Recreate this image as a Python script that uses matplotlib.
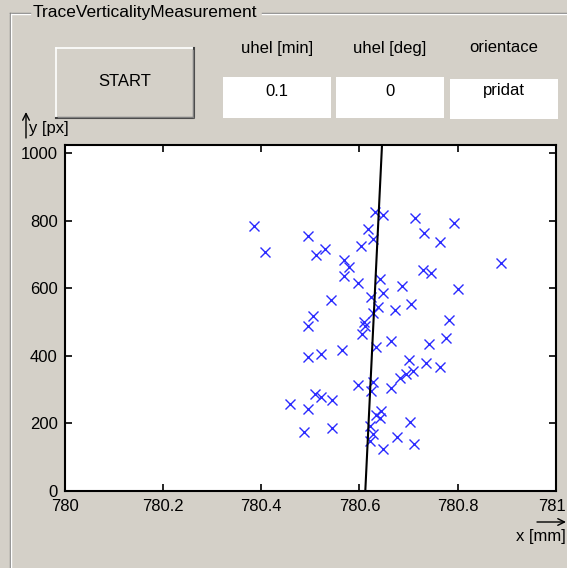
import matplotlib.pyplot as plt
from matplotlib.patches import Rectangle
from matplotlib.lines import Line2D
from matplotlib.transforms import ScaledTranslation

# namerene body stopy: x v mm, y v px
x_mm = [780.386, 780.407, 780.495, 780.512, 780.531, 780.568, 780.578, 780.568,
        780.597, 780.542, 780.505, 780.495, 780.631, 780.647, 780.617, 780.627,
        780.604, 780.641, 780.647, 780.623, 780.638, 780.627, 780.610, 780.611,
        780.606, 780.713, 780.792, 780.732, 780.765, 780.888, 780.729, 780.746,
        780.686, 780.801, 780.706, 780.673, 780.782, 780.776, 780.664, 780.742,
        780.634, 780.564, 780.522, 780.495, 780.700, 780.736, 780.765, 780.709,
        780.695, 780.683, 780.627, 780.597, 780.624, 780.664, 780.509, 780.522,
        780.459, 780.545, 780.495, 780.643, 780.634, 780.641, 780.703, 780.621,
        780.488, 780.545, 780.627, 780.621, 780.676, 780.712, 780.647]
y_px = [784, 707, 754, 697, 717, 684, 664, 636,
        615, 564, 517, 488, 827, 817, 774, 746,
        726, 627, 587, 573, 544, 528, 501, 488,
        465, 807, 794, 764, 736, 674, 655, 644,
        607, 597, 554, 535, 507, 453, 444, 435,
        425, 416, 406, 396, 387, 378, 367, 354,
        345, 334, 324, 314, 295, 305, 287, 277,
        257, 268, 243, 236, 224, 216, 204, 193,
        176, 186, 168, 148, 159, 138, 124]

# prolozena primka (spodni a horni bod)
fit_x = [780.612, 780.646]
fit_y = [0, 1024]

x_ticks = [780, 780.2, 780.4, 780.6, 780.8, 781]
x_ticklabels = ['780', '780.2', '780.4', '780.6', '780.8', '781']
y_ticks = [0, 200, 400, 600, 800, 1000]

# hodnoty v polickach
labels = ['uhel [min]', 'uhel [deg]', 'orientace']
values = ['0.1', '0', 'pridat']

W, H = 567, 568
bg = '#d4d0c8'
plt.rcParams['font.family'] = ['Liberation Sans', 'DejaVu Sans']
plt.rcParams['font.size'] = 12

fig = plt.figure(figsize=(W / 100, H / 100), dpi=100, facecolor=bg)

# pozadi okna - kreslime v pixelech
gui = fig.add_axes([0, 0, 1, 1])
gui.set_xlim(0, W)
gui.set_ylim(H, 0)
gui.axis('off')
gui.set_zorder(0)

# ramecek panelu
gui.add_line(Line2D([10, 30], [12.5, 12.5], color='#808080', lw=1))
gui.add_line(Line2D([10, 30], [13.5, 13.5], color='white', lw=1))
gui.add_line(Line2D([262, W], [12.5, 12.5], color='#808080', lw=1))
gui.add_line(Line2D([262, W], [13.5, 13.5], color='white', lw=1))
gui.add_line(Line2D([10, 10], [12.5, H], color='#808080', lw=1))
gui.add_line(Line2D([11.2, 11.2], [13.5, H], color='white', lw=1))
gui.text(33, 13, 'TraceVerticalityMeasurement', ha='left', va='center', fontsize=12.5)

# tlacitko START
bx0, by0, bx1, by1 = 56, 48, 194, 118
gui.add_patch(Rectangle((bx0, by0), bx1 - bx0, by1 - by0, facecolor=bg, edgecolor='none'))
gui.add_line(Line2D([bx0, bx1, bx1], [by0, by0, by1], color='white', lw=1.2))
gui.add_line(Line2D([bx0, bx0], [by0, by1], color='white', lw=1.2))
gui.add_line(Line2D([bx0, bx1, bx1], [by1, by1, by0], color='#404040', lw=1.5))
gui.add_line(Line2D([bx0 + 1.5, bx1 - 1.5], [by1 - 1.5, by1 - 1.5], color='#808080', lw=1))
gui.add_line(Line2D([bx1 - 1.5, bx1 - 1.5], [by0 + 1.5, by1 - 1.5], color='#808080', lw=1))
gui.text((bx0 + bx1) / 2, 82, 'START', ha='center', va='center')

# popisky a bila editacni policka
box_left = [223, 336, 450]
box_top = [77, 77, 78.5]
for i in range(3):
    gui.add_patch(Rectangle((box_left[i], box_top[i]), 108, 40.5,
                            facecolor='white', edgecolor='none'))
    cx = box_left[i] + 54
    gui.text(cx, 48, labels[i], ha='center', va='center')
    gui.text(cx, 91, values[i], ha='center', va='center')

# popisky os se sipkami
gui.annotate('', xy=(26, 112), xytext=(26, 138),
             arrowprops=dict(arrowstyle='->', color='black', lw=1, shrinkA=0, shrinkB=0))
gui.text(29, 129, 'y [px]', ha='left', va='center')
gui.annotate('', xy=(566, 522), xytext=(537, 522),
             arrowprops=dict(arrowstyle='->', color='black', lw=1, shrinkA=0, shrinkB=0))
gui.text(566, 537, 'x [mm]', ha='right', va='center')

# vlastni graf
ax = fig.add_axes([64.5 / W, 1 - 491 / H, (556 - 64.5) / W, (491 - 145) / H])
ax.set_zorder(1)
ax.set_facecolor('white')
ax.plot(x_mm, y_px, 'x', color='#2b2bff', markersize=7, mew=1)
ax.plot(fit_x, fit_y, color='black', lw=1.5)
ax.set_xlim(780, 781)
ax.set_ylim(0, 1024)
ax.set_xticks(x_ticks)
ax.set_xticklabels(x_ticklabels)
ax.set_yticks(y_ticks)
ax.tick_params(direction='in', top=True, right=True, length=5, width=1.2, labelsize=12)
ax.tick_params(axis='x', pad=6)
ax.tick_params(axis='y', pad=5)
for s in ax.spines.values():
    s.set_linewidth(1.5)

# posledni popisek trochu doleva, at se vejde do okna
last = ax.get_xticklabels()[-1]
last.set_transform(last.get_transform() + ScaledTranslation(-0.04, 0, fig.dpi_scale_trans))

fig.savefig('out.png', dpi=100, facecolor=bg)
